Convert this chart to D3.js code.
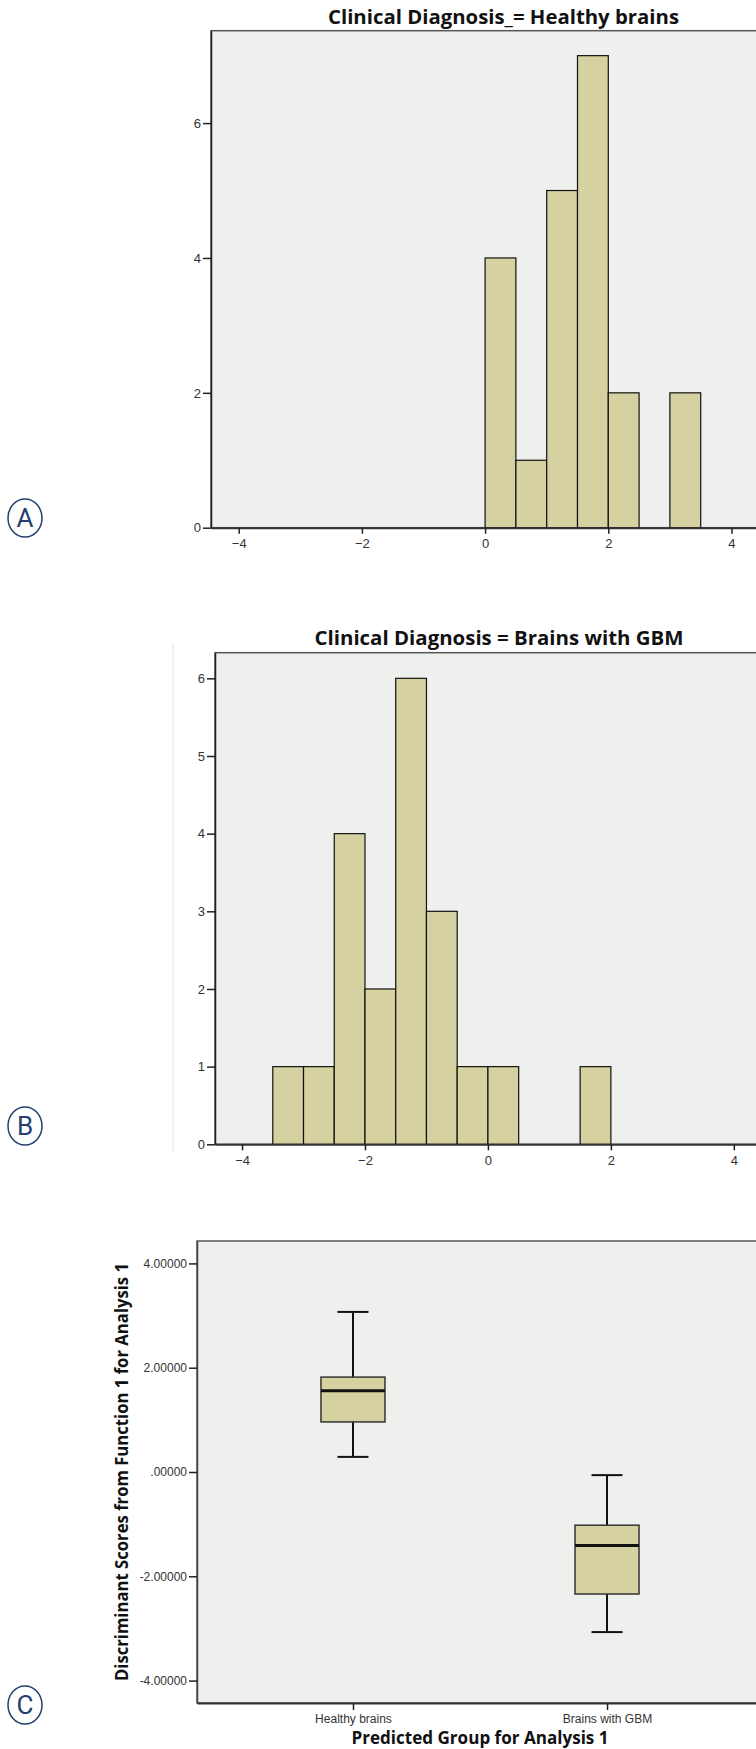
<!DOCTYPE html>
<html>
<head>
<meta charset="utf-8">
<script src="https://cdn.jsdelivr.net/npm/d3@7"></script>
<style>
  html, body { margin: 0; padding: 0; background: #fff; }
  svg { display: block; }
</style>
</head>
<body>
<script>
// panel A: healthy brains histogram (bin start, count)
var binsA = [0, 0.5, 1, 1.5, 2, 2.5, 3];
var countsA = [4, 1, 5, 7, 2, 0, 2];
var ticksA = [0, 2, 4, 6];

// panel B: brains with GBM histogram
var binsB = [-3.5, -3, -2.5, -2, -1.5, -1, -0.5, 0, 0.5, 1, 1.5];
var countsB = [1, 1, 4, 2, 6, 3, 1, 1, 0, 0, 1];
var ticksB = [0, 1, 2, 3, 4, 5, 6];

var xTicks = [-4, -2, 0, 2, 4];
var binWidth = 0.5;

// panel C: box plot
var groups = ["Healthy brains", "Brains with GBM"];
var whiskLo = [0.29, -3.07];
var q1 = [0.96, -2.34];
var median = [1.56, -1.41];
var q3 = [1.82, -1.02];
var whiskHi = [3.07, -0.06];
var ticksC = [4, 2, 0, -2, -4];

var W = 756, H = 1749;
var bg = "#eef0ee";
var fill = "#d6d1a0";
var navy = "#23406e";

var svg = d3.select("body").append("svg")
  .attr("width", W).attr("height", H);

// circled panel letters
function panelLetter(txt, cx, cy) {
  svg.append("ellipse")
    .attr("cx", cx).attr("cy", cy).attr("rx", 17).attr("ry", 19)
    .attr("fill", "none").attr("stroke", navy).attr("stroke-width", 1.5);
  svg.append("text")
    .attr("x", cx).attr("y", cy + 9)
    .attr("text-anchor", "middle")
    .attr("font-family", "Liberation Sans Narrow, Roboto, sans-serif")
    .attr("font-size", 26)
    .attr("fill", navy)
    .text(txt);
}

function histogram(opt) {
  var x = d3.scaleLinear().domain(opt.xDomain).range([opt.left, opt.right]);
  var y = d3.scaleLinear().domain(opt.yDomain).range([opt.bottom, opt.top]);

  svg.append("rect")
    .attr("x", opt.left).attr("y", opt.top)
    .attr("width", opt.right - opt.left).attr("height", opt.bottom - opt.top)
    .attr("fill", bg).attr("stroke", "#555").attr("stroke-width", 1.5);

  var data = opt.bins.map(function(b, i) { return { x0: b, n: opt.counts[i] }; })
    .filter(function(d) { return d.n > 0; });

  svg.append("g").selectAll("rect")
    .data(data).enter().append("rect")
    .attr("x", function(d) { return x(d.x0); })
    .attr("y", function(d) { return y(d.n); })
    .attr("width", function(d) { return x(d.x0 + binWidth) - x(d.x0); })
    .attr("height", function(d) { return y(0) - y(d.n); })
    .attr("fill", fill).attr("stroke", "#111").attr("stroke-width", 1.2);

  var ga = svg.append("g")
    .attr("transform", "translate(" + opt.left + ",0)")
    .call(d3.axisLeft(y).tickValues(opt.yTicks).tickSize(8).tickSizeOuter(0)
      .tickPadding(2).tickFormat(d3.format("d")));
  ga.select(".domain").attr("stroke", "#222").attr("stroke-width", 1.5);

  var gb = svg.append("g")
    .attr("transform", "translate(0," + opt.bottom + ")")
    .call(d3.axisBottom(x).tickValues(xTicks).tickSize(6).tickSizeOuter(0)
      .tickPadding(5).tickFormat(d3.format("d")));
  gb.select(".domain").attr("stroke", "#333").attr("stroke-width", 2);

  svg.selectAll(".tick line").attr("stroke", "#222").attr("stroke-width", 1.5);
  svg.selectAll(".tick text")
    .attr("font-family", "Liberation Sans, sans-serif")
    .attr("font-size", 13).attr("fill", "#333");

  svg.append("text")
    .attr("x", opt.titleX).attr("y", opt.titleY)
    .attr("text-anchor", "middle")
    .attr("font-family", "Open Sans, sans-serif")
    .attr("font-weight", "bold")
    .attr("font-size", 19)
    .attr("textLength", opt.titleW).attr("lengthAdjust", "spacingAndGlyphs")
    .attr("fill", "#111")
    .text(opt.title);
}

histogram({
  left: 211, right: 790, top: 30.7, bottom: 527.7,
  xDomain: [-4.45, 4.95], yDomain: [0, 7.37],
  bins: binsA, counts: countsA, yTicks: ticksA,
  title: "Clinical Diagnosis_= Healthy brains", titleX: 503.5, titleY: 24, titleW: 351
});

// faint image border left of panel B
svg.append("line")
  .attr("x1", 173).attr("x2", 173).attr("y1", 643).attr("y2", 1152)
  .attr("stroke", "#e2e2e2").attr("stroke-width", 1);

histogram({
  left: 215, right: 783, top: 652.7, bottom: 1144.3,
  xDomain: [-4.44, 4.8], yDomain: [0, 6.33],
  bins: binsB, counts: countsB, yTicks: ticksB,
  title: "Clinical Diagnosis = Brains with GBM", titleX: 499, titleY: 645, titleW: 369
});

// box plot
var cLeft = 197, cRight = 763, cTop = 1241, cBottom = 1703;
var xc = d3.scalePoint().domain(groups).range([cLeft, cRight]).padding(0.614);
var yc = d3.scaleLinear().domain([-4.43, 4.43]).range([cBottom, cTop]);
var boxW = 64, capW = 31;

svg.append("rect")
  .attr("x", cLeft).attr("y", cTop)
  .attr("width", cRight - cLeft).attr("height", cBottom - cTop)
  .attr("fill", bg).attr("stroke", "#555").attr("stroke-width", 1.5);

var boxes = groups.map(function(g, i) {
  return { g: g, lo: whiskLo[i], q1: q1[i], med: median[i], q3: q3[i], hi: whiskHi[i] };
});

var bx = svg.append("g").selectAll("g").data(boxes).enter().append("g");
bx.append("line")
  .attr("x1", function(d) { return xc(d.g); }).attr("x2", function(d) { return xc(d.g); })
  .attr("y1", function(d) { return yc(d.hi); }).attr("y2", function(d) { return yc(d.lo); })
  .attr("stroke", "#111").attr("stroke-width", 2);
bx.append("line")
  .attr("x1", function(d) { return xc(d.g) - capW / 2; }).attr("x2", function(d) { return xc(d.g) + capW / 2; })
  .attr("y1", function(d) { return yc(d.hi); }).attr("y2", function(d) { return yc(d.hi); })
  .attr("stroke", "#111").attr("stroke-width", 2);
bx.append("line")
  .attr("x1", function(d) { return xc(d.g) - capW / 2; }).attr("x2", function(d) { return xc(d.g) + capW / 2; })
  .attr("y1", function(d) { return yc(d.lo); }).attr("y2", function(d) { return yc(d.lo); })
  .attr("stroke", "#111").attr("stroke-width", 2);
bx.append("rect")
  .attr("x", function(d) { return xc(d.g) - boxW / 2; })
  .attr("y", function(d) { return yc(d.q3); })
  .attr("width", boxW)
  .attr("height", function(d) { return yc(d.q1) - yc(d.q3); })
  .attr("fill", fill).attr("stroke", "#333").attr("stroke-width", 1.5);
bx.append("line")
  .attr("x1", function(d) { return xc(d.g) - boxW / 2; }).attr("x2", function(d) { return xc(d.g) + boxW / 2; })
  .attr("y1", function(d) { return yc(d.med); }).attr("y2", function(d) { return yc(d.med); })
  .attr("stroke", "#111").attr("stroke-width", 3);

var gcy = svg.append("g")
  .attr("transform", "translate(" + cLeft + ",0)")
  .call(d3.axisLeft(yc).tickValues(ticksC).tickSize(8).tickSizeOuter(0).tickPadding(2)
    .tickFormat(function(d) { return d === 0 ? ".00000" : d.toFixed(5); }));
gcy.select(".domain").attr("stroke", "#444").attr("stroke-width", 1.5);

var gcx = svg.append("g")
  .attr("transform", "translate(0," + cBottom + ")")
  .call(d3.axisBottom(xc).tickSize(7).tickSizeOuter(0).tickPadding(4));
gcx.select(".domain").attr("stroke", "#333").attr("stroke-width", 2);

gcy.selectAll(".tick line").attr("stroke", "#222").attr("stroke-width", 1.5);
gcx.selectAll(".tick line").attr("stroke", "#222").attr("stroke-width", 1.5);
gcy.selectAll(".tick text")
  .attr("font-family", "Liberation Sans, sans-serif")
  .attr("font-size", 12).attr("fill", "#333");
gcx.selectAll(".tick text")
  .attr("font-family", "Liberation Sans Narrow, Liberation Sans, sans-serif")
  .attr("font-size", 12).attr("fill", "#333");

svg.append("text")
  .attr("transform", "translate(128," + ((cTop + cBottom) / 2) + ") rotate(-90)")
  .attr("text-anchor", "middle")
  .attr("font-family", "Open Sans, sans-serif")
  .attr("font-weight", "bold").attr("font-size", 17)
  .attr("textLength", 418).attr("lengthAdjust", "spacingAndGlyphs")
  .attr("fill", "#111")
  .text("Discriminant Scores from Function 1 for Analysis 1");

svg.append("text")
  .attr("x", (cLeft + cRight) / 2).attr("y", 1744)
  .attr("text-anchor", "middle")
  .attr("font-family", "Open Sans, sans-serif")
  .attr("font-weight", "bold").attr("font-size", 17)
  .attr("textLength", 257).attr("lengthAdjust", "spacingAndGlyphs")
  .attr("fill", "#111")
  .text("Predicted Group for Analysis 1");

panelLetter("A", 25, 518);
panelLetter("B", 25, 1126);
panelLetter("C", 25, 1705);
</script>
</body>
</html>
